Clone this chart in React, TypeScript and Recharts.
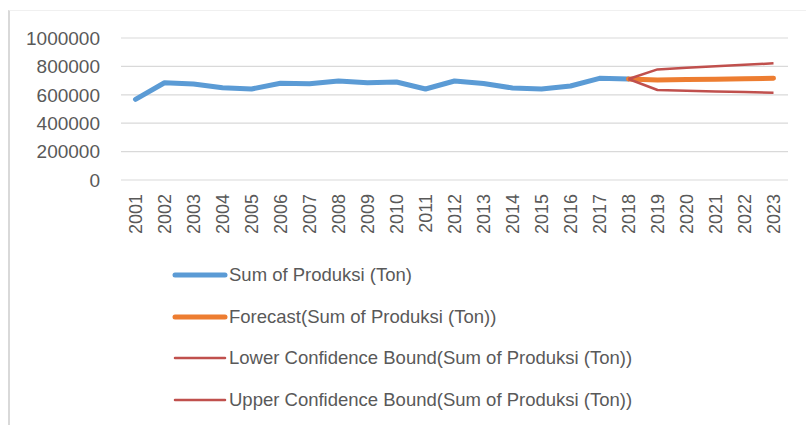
import React from 'react';
import { LineChart, Line, XAxis, YAxis, CartesianGrid, Legend } from 'recharts';

const years = ['2001','2002','2003','2004','2005','2006','2007','2008','2009','2010','2011','2012','2013','2014','2015','2016','2017','2018','2019','2020','2021','2022','2023'];
const produksi: (number | null)[] = [568000, 685000, 676000, 650000, 641000, 681000, 678000, 697000, 685000, 690000, 641000, 697000, 679000, 648000, 641000, 662000, 716000, 711000, null, null, null, null, null];
const forecast: (number | null)[] = [null, null, null, null, null, null, null, null, null, null, null, null, null, null, null, null, null, 711000, 705000, 707000, 710000, 713000, 716000];
const lowerBound: (number | null)[] = [null, null, null, null, null, null, null, null, null, null, null, null, null, null, null, null, null, 711000, 634000, 629000, 624000, 620000, 615000];
const upperBound: (number | null)[] = [null, null, null, null, null, null, null, null, null, null, null, null, null, null, null, null, null, 711000, 779000, 790000, 801000, 811000, 822000];
const yTicks = [0, 200000, 400000, 600000, 800000, 1000000];

const seriesNames = {
  produksi: 'Sum of Produksi (Ton)',
  forecast: 'Forecast(Sum of Produksi (Ton))',
  lower: 'Lower Confidence Bound(Sum of Produksi (Ton))',
  upper: 'Upper Confidence Bound(Sum of Produksi (Ton))',
};

const data = years.map((y, i) => ({
  year: y,
  produksi: produksi[i],
  forecast: forecast[i],
  lower: lowerBound[i],
  upper: upperBound[i],
}));

const FONT = '"Liberation Sans", Arial, sans-serif';
const TEXT = '#595959';

const legendItems = [
  { name: seriesNames.produksi, color: '#5B9BD5', width: 5 },
  { name: seriesNames.forecast, color: '#ED7D31', width: 5 },
  { name: seriesNames.lower, color: '#C0504D', width: 2.5 },
  { name: seriesNames.upper, color: '#C0504D', width: 2.5 },
];

const LegendContent = () => (
  <div style={{ fontFamily: FONT, fontSize: 18.5, color: TEXT }}>
    {legendItems.map((it) => (
      <div key={it.name} style={{ display: 'flex', alignItems: 'center', height: 41.7 }}>
        <svg width={57} height={10} style={{ display: 'block' }}>
          <line x1={3} y1={5} x2={53} y2={5} stroke={it.color} strokeWidth={it.width} strokeLinecap="round" />
        </svg>
        <span style={{ whiteSpace: 'nowrap' }}>{it.name}</span>
      </div>
    ))}
  </div>
);

const XTick = (props: any) => {
  const { x, y, payload } = props;
  return (
    <text
      x={x}
      y={y}
      transform={`rotate(-90, ${x}, ${y})`}
      textAnchor="end"
      dominantBaseline="central"
      fill={TEXT}
      fontSize={18}
      fontFamily={FONT}
    >
      {payload.value}
    </text>
  );
};

export default function App() {
  return (
    <div style={{ position: 'absolute', left: 0, top: 0, width: 806, height: 425, background: '#fff', overflow: 'hidden' }}>
      <div style={{ position: 'absolute', left: 8, top: 10, width: 798, height: 415, borderLeft: '2px solid #d9d9d9', borderTop: '1px solid #f0f0f0' }} />
      <LineChart width={806} height={425} data={data} margin={{ top: 38, right: 18, bottom: 185, left: 0 }}>
        <CartesianGrid vertical={false} stroke="#d9d9d9" strokeWidth={1.2} />
        <XAxis
          dataKey="year"
          interval={0}
          axisLine={false}
          tickLine={false}
          tickSize={0}
          tickMargin={14}
          padding={{ left: 14.5, right: 14.5 }}
          tick={<XTick />}
          height={60}
        />
        <YAxis
          width={121}
          domain={[0, 1000000]}
          ticks={yTicks}
          interval={0}
          axisLine={false}
          tickLine={false}
          tickSize={0}
          tickMargin={21}
          tick={{ fill: TEXT, fontSize: 19, fontFamily: FONT }}
        />
        <Line dataKey="produksi" name={seriesNames.produksi} stroke="#5B9BD5" strokeWidth={5} dot={false} strokeLinecap="round" strokeLinejoin="round" isAnimationActive={false} />
        <Line dataKey="forecast" name={seriesNames.forecast} stroke="#ED7D31" strokeWidth={5} dot={false} strokeLinecap="round" strokeLinejoin="round" isAnimationActive={false} />
        <Line dataKey="lower" name={seriesNames.lower} stroke="#C0504D" strokeWidth={2.5} dot={false} strokeLinejoin="round" isAnimationActive={false} />
        <Line dataKey="upper" name={seriesNames.upper} stroke="#C0504D" strokeWidth={2.5} dot={false} strokeLinejoin="round" isAnimationActive={false} />
        <Legend
          layout="vertical"
          align="center"
          verticalAlign="middle"
          content={<LegendContent />}
          wrapperStyle={{ position: 'absolute', left: 172, top: 254, width: 540 }}
        />
      </LineChart>
    </div>
  );
}
